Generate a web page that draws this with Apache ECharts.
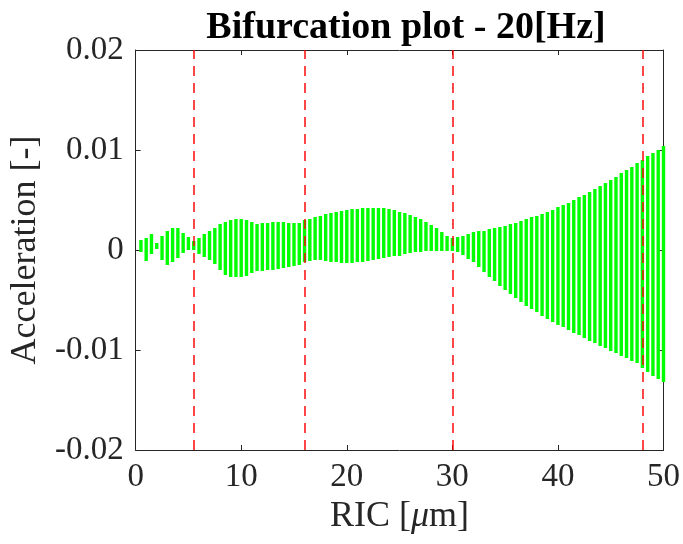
<!DOCTYPE html>
<html>
<head>
<meta charset="utf-8">
<script src="https://cdn.jsdelivr.net/npm/echarts@6/dist/echarts.min.js"></script>
<style>
  html, body { margin: 0; padding: 0; background: #fff; }
  #chart { width: 683px; height: 544px; }
</style>
</head>
<body>
<div id="chart"></div>
<script>
// RIC positions [um]
var ric = [
  0.5, 1, 1.5, 2, 2.5, 3, 3.5, 4, 4.5, 5,
  5.5, 6, 6.5, 7, 7.5, 8, 8.5, 9, 9.5, 10,
  10.5, 11, 11.5, 12, 12.5, 13, 13.5, 14, 14.5, 15,
  15.5, 16, 16.5, 17, 17.5, 18, 18.5, 19, 19.5, 20,
  20.5, 21, 21.5, 22, 22.5, 23, 23.5, 24, 24.5, 25,
  25.5, 26, 26.5, 27, 27.5, 28, 28.5, 29, 29.5, 30,
  30.5, 31, 31.5, 32, 32.5, 33, 33.5, 34, 34.5, 35,
  35.5, 36, 36.5, 37, 37.5, 38, 38.5, 39, 39.5, 40,
  40.5, 41, 41.5, 42, 42.5, 43, 43.5, 44, 44.5, 45,
  45.5, 46, 46.5, 47, 47.5, 48, 48.5, 49, 49.5, 50
];
// upper branch of acceleration
var accMax = [
  0.0010, 0.0012, 0.0016, 0.0007, 0.0014, 0.0019, 0.0022, 0.0022, 0.0017, 0.0013,
  0.0009, 0.0012, 0.0016, 0.0019, 0.0022, 0.0026, 0.0028, 0.0030, 0.0031, 0.0031,
  0.0030, 0.0028, 0.0026, 0.0027, 0.0027, 0.0028, 0.0028, 0.0028, 0.0027, 0.0027,
  0.0027, 0.0030, 0.0031, 0.0033, 0.0034, 0.0036, 0.0037, 0.0038, 0.0039, 0.0040,
  0.0041, 0.0041, 0.0042, 0.0042, 0.0042, 0.0042, 0.0042, 0.0041, 0.0040, 0.0038,
  0.0037, 0.0035, 0.0033, 0.0031, 0.0028, 0.0025, 0.0022, 0.0018, 0.0014, 0.0012,
  0.0013, 0.0014, 0.0016, 0.0018, 0.0019, 0.0019, 0.0021, 0.0022, 0.0023, 0.0024,
  0.0026, 0.0027, 0.0029, 0.0031, 0.0033, 0.0034, 0.0036, 0.0038, 0.0040, 0.0043,
  0.0045, 0.0047, 0.0050, 0.0053, 0.0055, 0.0058, 0.0061, 0.0064, 0.0067, 0.0070,
  0.0073, 0.0077, 0.0080, 0.0083, 0.0087, 0.0090, 0.0094, 0.0097, 0.0100, 0.0104
];
// lower branch of acceleration
var accMin = [
  -0.0002, -0.0011, -0.0004, 0.0001, -0.0010, -0.0015, -0.0012, -0.0008, -0.0003, 0.0000,
  0.0000, -0.0004, -0.0007, -0.0010, -0.0014, -0.0020, -0.0025, -0.0027, -0.0027, -0.0027,
  -0.0026, -0.0023, -0.0021, -0.0021, -0.0020, -0.0020, -0.0019, -0.0018, -0.0017, -0.0016,
  -0.0015, -0.0012, -0.0011, -0.0010, -0.0010, -0.0011, -0.0012, -0.0012, -0.0013, -0.0013,
  -0.0013, -0.0012, -0.0012, -0.0011, -0.0010, -0.0009, -0.0008, -0.0007, -0.0006, -0.0006,
  -0.0004, -0.0003, -0.0002, -0.0002, -0.0001, -0.0001, -0.0001, -0.0001, -0.0001, -0.0001,
  -0.0002, -0.0005, -0.0009, -0.0012, -0.0017, -0.0022, -0.0027, -0.0031, -0.0036, -0.0040,
  -0.0044, -0.0048, -0.0052, -0.0056, -0.0059, -0.0062, -0.0066, -0.0069, -0.0072, -0.0075,
  -0.0077, -0.0080, -0.0083, -0.0085, -0.0088, -0.0091, -0.0093, -0.0096, -0.0098, -0.0101,
  -0.0103, -0.0106, -0.0108, -0.0111, -0.0113, -0.0118, -0.0122, -0.0126, -0.0129, -0.0132
];
// red dashed marker positions
var markX = [5.5, 16, 30, 48];
var xTicks = [0, 10, 20, 30, 40, 50];
var yTicks = ['-0.02', '-0.01', '0', '0.01', '0.02'];

var data = ric.map(function (x, i) { return [x, accMin[i], accMax[i]]; });

var font = 'Liberation Serif';
var axisColor = '#262626';

var chart = echarts.init(document.getElementById('chart'));

function renderBar(params, api) {
  var hi = api.coord([api.value(0), api.value(2)]);
  var lo = api.coord([api.value(0), api.value(1)]);
  var h = Math.max(lo[1] - hi[1], 2);
  return {
    type: 'rect',
    shape: { x: hi[0] - 1.7, y: hi[1], width: 3.4, height: h },
    style: { fill: '#00ff00' }
  };
}

chart.setOption({
  animation: false,
  title: {
    text: 'Bifurcation plot - 20[Hz]',
    left: 401,
    top: 4,
    textAlign: 'center',
    textStyle: { fontFamily: font, fontSize: 38, fontWeight: 'bold', color: '#000' }
  },
  grid: { left: 135, right: 18, top: 50, bottom: 94 },
  xAxis: [{
    type: 'value',
    min: 0, max: 50, interval: 10,
    name: '{n|RIC [}{m|μ}{n|m]}',
    nameLocation: 'middle',
    nameGap: 48,
    nameTextStyle: {
      rich: {
        n: { fontFamily: font, fontSize: 36, color: axisColor },
        m: { fontFamily: font, fontSize: 36, fontStyle: 'italic', color: axisColor }
      }
    },
    axisLine: { onZero: false, lineStyle: { color: axisColor, width: 1 } },
    axisTick: { inside: true, length: 5, lineStyle: { color: axisColor } },
    axisLabel: { fontFamily: font, fontSize: 33, color: axisColor, margin: 11,
      formatter: function (v) { return xTicks.indexOf(v) >= 0 ? String(v) : ''; } },
    splitLine: { show: false }
  }, {
    type: 'value', position: 'top',
    min: 0, max: 50, interval: 10,
    axisLine: { onZero: false, lineStyle: { color: axisColor, width: 1 } },
    axisTick: { inside: true, length: 5, lineStyle: { color: axisColor } },
    axisLabel: { show: false },
    splitLine: { show: false }
  }],
  yAxis: [{
    type: 'value',
    min: -0.02, max: 0.02, interval: 0.01,
    name: 'Acceleration [-]',
    nameLocation: 'middle',
    nameGap: 91,
    nameTextStyle: { fontFamily: font, fontSize: 36, color: axisColor },
    axisLine: { onZero: false, lineStyle: { color: axisColor, width: 1 } },
    axisTick: { inside: true, length: 5, lineStyle: { color: axisColor } },
    axisLabel: { fontFamily: font, fontSize: 33, color: axisColor, margin: 12,
      formatter: function (v) {
        var i = Math.round(v * 100) + 2;
        return yTicks[i] || '';
      } },
    splitLine: { show: false }
  }, {
    type: 'value', position: 'right',
    min: -0.02, max: 0.02, interval: 0.01,
    axisLine: { onZero: false, lineStyle: { color: axisColor, width: 1 } },
    axisTick: { inside: true, length: 5, lineStyle: { color: axisColor } },
    axisLabel: { show: false },
    splitLine: { show: false }
  }],
  series: [{
    type: 'custom',
    renderItem: renderBar,
    encode: { x: 0, y: [1, 2] },
    data: data,
    z: 2
  }, {
    type: 'line',
    data: [],
    z: 5,
    markLine: {
      silent: true,
      symbol: 'none',
      label: { show: false },
      lineStyle: { color: 'rgba(255, 0, 0, 0.72)', type: [10, 7], width: 2 },
      data: markX.map(function (x) { return { xAxis: x }; })
    }
  }]
});
</script>
</body>
</html>
